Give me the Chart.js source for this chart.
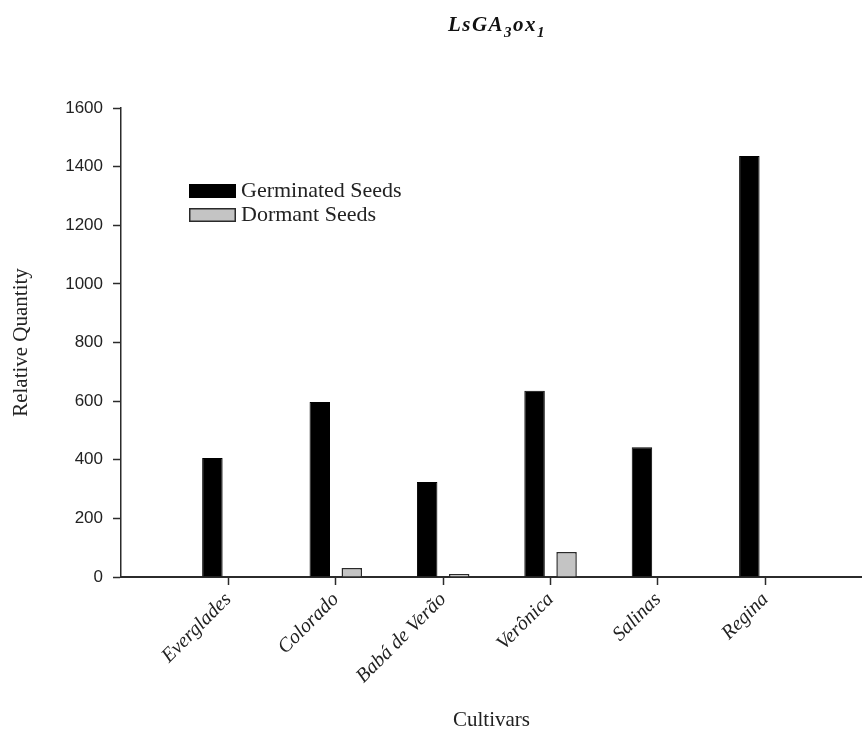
<!DOCTYPE html>
<html>
<head>
<meta charset="utf-8">
<script src="https://cdn.jsdelivr.net/npm/chart.js@4.4.1/dist/chart.umd.min.js"></script>
<style>
  html, body { margin: 0; padding: 0; background: #fff; overflow: hidden; }
  #wrap { position: relative; width: 862px; height: 733px; }
</style>
</head>
<body>
<div id="wrap"><canvas id="c" width="862" height="733"></canvas></div>
<script>
// Cultivars on the x axis and the two measured series
const categories = ['Everglades', 'Colorado', 'Babá de Verão', 'Verônica', 'Salinas', 'Regina'];
const germinatedSeeds = [406, 597, 324, 635, 443, 1436];
const dormantSeeds = [0, 31, 10, 85, 0, 0];
const yTickValues = [0, 200, 400, 600, 800, 1000, 1200, 1400, 1600];
const seriesNames = ['Germinated Seeds', 'Dormant Seeds'];

const SERIF = '"Liberation Serif", "Times New Roman", serif';
const SANS = '"Liberation Sans", Arial, sans-serif';
const AXIS_COLOR = '#2b2b2b';

// Gene name with subscripts, drawn piece by piece
const titlePlugin = {
  id: 'geneTitle',
  afterDraw(chart) {
    const ctx = chart.ctx;
    const parts = [['LsGA', false], ['3', true], ['ox', false], ['1', true]];
    const big = 'italic bold 21px ' + SERIF;
    const small = 'italic bold 15px ' + SERIF;
    ctx.save();
    ctx.fillStyle = '#111';
    ctx.textBaseline = 'alphabetic';
    ctx.textAlign = 'left';
    const spacing = 1.5;
    let total = 0;
    const widths = parts.map(([t, sub]) => {
      ctx.font = sub ? small : big;
      let w = 0;
      for (const ch of t) w += ctx.measureText(ch).width + spacing;
      total += w;
      return w;
    });
    let x = 497 - total / 2;
    const baseline = 31;
    parts.forEach(([t, sub], i) => {
      ctx.font = sub ? small : big;
      let cx = x;
      for (const ch of t) {
        ctx.fillText(ch, cx, sub ? baseline + 6 : baseline);
        cx += ctx.measureText(ch).width + spacing;
      }
      x += widths[i];
    });
    ctx.restore();
  }
};

// Legend boxes drawn inside the plot area, upper left
const legendPlugin = {
  id: 'boxLegend',
  afterDraw(chart) {
    const ctx = chart.ctx;
    ctx.save();
    ctx.font = '22px ' + SERIF;
    ctx.textBaseline = 'middle';
    ctx.textAlign = 'left';
    chart.data.datasets.forEach((ds, i) => {
      const y = 184 + i * 24;
      ctx.fillStyle = ds.backgroundColor;
      ctx.fillRect(189, y, 47, 14);
      ctx.lineWidth = 1.5;
      ctx.strokeStyle = ds.borderColor;
      ctx.strokeRect(189.75, y + 0.75, 45.5, 12.5);
      ctx.fillStyle = '#222';
      ctx.fillText(ds.label, 241, y + 7);
    });
    ctx.restore();
  }
};

const toPoints = arr => arr.map((v, i) => ({ x: i + 1, y: v }));

new Chart(document.getElementById('c').getContext('2d'), {
  type: 'bar',
  data: {
    datasets: [
      {
        label: seriesNames[0],
        data: toPoints(germinatedSeeds),
        backgroundColor: '#000000',
        borderColor: '#000000',
        borderWidth: 1
      },
      {
        label: seriesNames[1],
        data: toPoints(dormantSeeds),
        backgroundColor: '#c4c4c4',
        borderColor: '#2a2a2a',
        borderWidth: 1.5
      }
    ]
  },
  options: {
    responsive: false,
    animation: false,
    categoryPercentage: 0.596,
    barPercentage: 0.64,
    layout: { padding: { top: 108, left: 0, right: 0, bottom: 0 } },
    plugins: {
      legend: { display: false },
      tooltip: { enabled: false },
      title: { display: false }
    },
    scales: {
      x: {
        type: 'linear',
        min: 0,
        max: 6.9,
        offset: false,
        afterFit(scale) { scale.height = 156; },
        afterBuildTicks(scale) {
          scale.ticks = categories.map((c, i) => ({ value: i + 1 }));
        },
        ticks: {
          stepSize: 1,
          includeBounds: false,
          autoSkip: false,
          minRotation: 45,
          maxRotation: 45,
          padding: 3,
          color: '#222',
          font: { family: SERIF, size: 20, style: 'italic' },
          callback: v => categories[v - 1] ?? ''
        },
        grid: {
          offset: false,
          drawOnChartArea: false,
          drawTicks: true,
          tickLength: 8,
          tickColor: AXIS_COLOR,
          tickWidth: 1.5
        },
        border: { display: true, color: AXIS_COLOR, width: 2 },
        title: {
          display: true,
          text: 'Cultivars',
          color: '#222',
          font: { family: SERIF, size: 21 },
          padding: { top: 4, bottom: 0 }
        }
      },
      y: {
        min: 0,
        max: 1600,
        afterFit(scale) { scale.width = 121; },
        afterBuildTicks(scale) {
          scale.ticks = yTickValues.map(v => ({ value: v }));
        },
        ticks: {
          padding: 10,
          color: '#222',
          font: { family: SANS, size: 17 },
          callback: v => String(v)
        },
        grid: {
          drawOnChartArea: false,
          drawTicks: true,
          tickLength: 8,
          tickColor: AXIS_COLOR,
          tickWidth: 1.5
        },
        border: { display: true, color: AXIS_COLOR, width: 1.5 },
        title: {
          display: true,
          text: 'Relative Quantity',
          color: '#222',
          font: { family: SERIF, size: 21 },
          padding: { top: 9, bottom: 4 }
        }
      }
    }
  },
  plugins: [titlePlugin, legendPlugin]
});
</script>
</body>
</html>
